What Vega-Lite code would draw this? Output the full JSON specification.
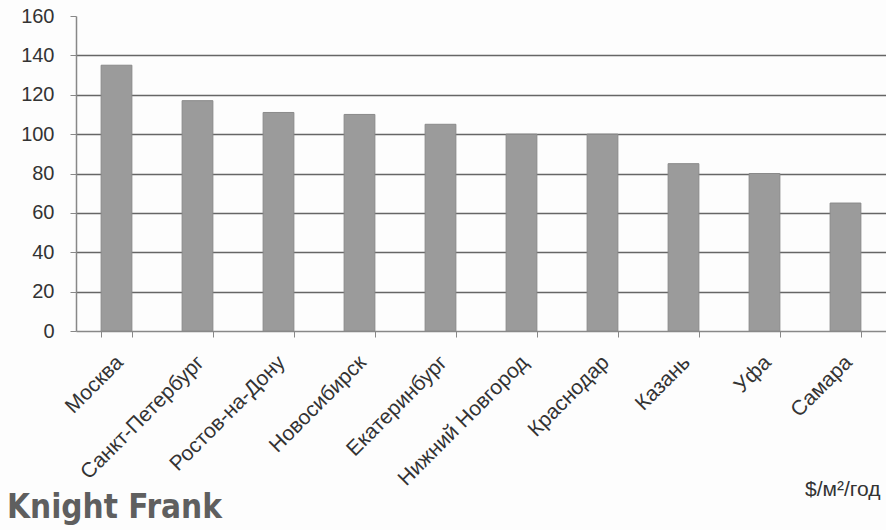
{
  "$schema": "https://vega.github.io/schema/vega-lite/v6.json",
  "width": 810,
  "height": 315,
  "autosize": {"type": "none"},
  "padding": {"left": 76, "top": 16, "right": 0, "bottom": 199},
  "background": "#fdfdfd",
  "title": {
    "text": "Knight Frank",
    "orient": "bottom",
    "anchor": "start",
    "frame": "group",
    "dx": -69,
    "offset": -7,
    "font": "DejaVu Sans Condensed",
    "fontWeight": "bold",
    "fontSize": 33,
    "color": "#5f5f5f"
  },
  "data": {
    "values": [
      {"city": "Москва", "rent": 135},
      {"city": "Санкт-Петербург", "rent": 117},
      {"city": "Ростов-на-Дону", "rent": 111},
      {"city": "Новосибирск", "rent": 110},
      {"city": "Екатеринбург", "rent": 105},
      {"city": "Нижний Новгород", "rent": 100},
      {"city": "Краснодар", "rent": 100},
      {"city": "Казань", "rent": 85},
      {"city": "Уфа", "rent": 80},
      {"city": "Самара", "rent": 65}
    ]
  },
  "mark": {"type": "bar", "color": "#9b9b9b", "stroke": "#8a8a8a", "strokeWidth": 1},
  "encoding": {
    "x": {
      "field": "city",
      "type": "nominal",
      "sort": null,
      "scale": {"paddingInner": 0.62, "paddingOuter": 0.31},
      "axis": {
        "title": "$/м²/год",
        "titleX": 804,
        "titleY": 164,
        "titleAlign": "right",
        "titleAnchor": null,
        "titleBaseline": "alphabetic",
        "titleFont": "Liberation Sans",
        "titleFontSize": 21,
        "titleFontWeight": "normal",
        "titleColor": "#333333",
        "labelAngle": -45,
        "labelAlign": "right",
        "labelBaseline": "middle",
        "labelPadding": 22,
        "labelOffset": 3,
        "labelFont": "Liberation Sans",
        "labelFontSize": 21,
        "labelColor": "#333333",
        "labelOverlap": false,
        "tickBand": "extent",
        "tickSize": 6,
        "tickColor": "#888888",
        "domainColor": "#888888",
        "domainWidth": 1.5
      }
    },
    "y": {
      "field": "rent",
      "type": "quantitative",
      "scale": {"domain": [0, 160]},
      "axis": {
        "title": null,
        "values": [0, 20, 40, 60, 80, 100, 120, 140, 160],
        "labelFont": "Liberation Sans",
        "labelFontSize": 20,
        "labelColor": "#333333",
        "labelPadding": 16,
        "tickSize": 6,
        "tickColor": "#888888",
        "domainColor": "#888888",
        "domainWidth": 1.5,
        "grid": true,
        "gridColor": "#666666",
        "gridWidth": 1.5,
        "gridOpacity": {"condition": {"test": "datum.value == 160 || datum.value == 0", "value": 0}, "value": 1}
      }
    }
  },
  "config": {"view": {"stroke": null}}
}
